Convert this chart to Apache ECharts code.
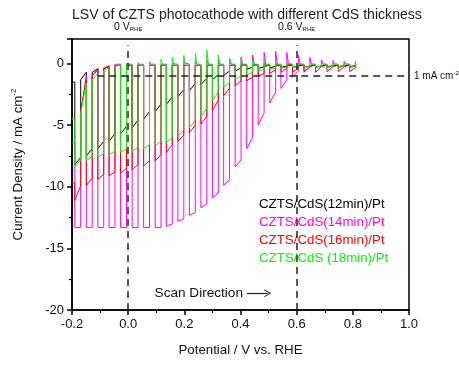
<!DOCTYPE html>
<html><head><meta charset="utf-8">
<script src="https://cdn.jsdelivr.net/npm/echarts@6/dist/echarts.min.js"></script>
<style>html,body{margin:0;padding:0;background:#fff}#c{width:459px;height:365px}</style>
</head><body><div id="c"></div>
<script>
// ---- chopping (light on / light off potentials, V vs RHE) ----
const V_START = -0.2;
const V_ON  = [-0.190,-0.149,-0.108,-0.068,-0.027,0.014,0.055,0.096,0.136,0.177,0.218,0.259,0.300,0.340,0.381,0.422,0.463,0.504,0.544,0.585,0.626,0.667,0.708,0.748,0.789];
const V_OFF = [-0.169,-0.128,-0.087,-0.047,-0.006,0.035,0.076,0.117,0.157,0.198,0.239,0.280,0.321,0.361,0.402,0.443,0.484,0.525,0.565,0.606,0.647,0.688,0.729,0.769,0.810];

const seriesNames = ['CZTS/CdS(12min)/Pt','CZTS/CdS(14min)/Pt','CZTS/CdS(16min)/Pt','CZTS/CdS (18min)/Pt'];
const seriesColors = ['#000000','#ff00ff','#ff0000','#11ee11'];

// ---- 12 min (black) ----
const s12_start = -1.5;
const s12_lightStart = [-8.2,-7.5,-6.9,-6.3,-5.7,-5.2,-4.5,-3.9,-3.3,-2.7,-2.2,-1.7,-1.3,-0.95,-0.6,-0.45,-0.4,-0.35,-0.3,-0.3,-0.3,-0.3,-0.3,-0.3,-0.3];
const s12_lightEnd   = [-7.6,-6.9,-6.3,-5.7,-5.1,-4.6,-3.9,-3.3,-2.7,-2.1,-1.6,-1.2,-0.9,-0.6,-0.35,-0.3,-0.25,-0.2,-0.2,-0.2,-0.2,-0.2,-0.2,-0.2,-0.2];
const s12_offVal     = [-1.3,-0.7,-0.4,-0.15,-0.15,-0.15,-0.15,-0.15,-0.15,-0.15,-0.15,-0.15,-0.15,-0.15,-0.12,-0.12,-0.1,-0.1,-0.1,-0.1,-0.1,-0.1,-0.1,-0.1,-0.1];
const s12_dark       = [-0.7,-0.4,-0.25,-0.15,-0.15,-0.15,-0.15,-0.15,-0.15,-0.15,-0.15,-0.15,-0.15,-0.15,-0.12,-0.12,-0.1,-0.1,-0.1,-0.1,-0.1,-0.1,-0.1,-0.1,-0.1];

// ---- 14 min (magenta) ----
const s14_start = -6.5;
const s14_lightStart = [-13.3,-13.3,-13.3,-13.3,-13.3,-13.3,-13.3,-13.3,-13.2,-12.8,-12.3,-11.7,-10.9,-9.9,-8.4,-6.9,-5.0,-3.2,-2.0,-1.1,-0.6,-0.35,-0.3,-0.25,-0.25];
const s14_lightEnd   = [-13.3,-13.3,-13.3,-13.3,-13.3,-13.3,-13.3,-13.3,-13.0,-12.6,-12.1,-11.4,-10.5,-9.4,-7.8,-6.0,-4.0,-2.3,-1.3,-0.6,-0.3,-0.15,-0.12,-0.1,-0.1];
const s14_offVal     = [-4.0,-1.0,-0.4,-0.05,-0.05,-0.05,-0.05,-0.05,0.0,0.1,0.2,0.3,0.3,0.4,0.5,0.7,0.9,1.0,0.9,0.7,0.5,0.3,0.25,0.2,0.2];
const s14_dark       = [-1.0,-0.4,-0.15,-0.05,-0.05,-0.05,-0.05,-0.05,-0.05,-0.05,-0.05,-0.05,-0.05,-0.05,-0.05,-0.05,-0.05,-0.05,-0.05,-0.05,-0.05,-0.05,-0.05,-0.05,-0.05];

// ---- 16 min (red) ----
const s16_start = -9.7;
const s16_lightStart = [-11.1,-9.9,-9.4,-9.1,-8.9,-8.6,-8.3,-7.9,-7.2,-6.3,-5.6,-4.9,-3.8,-2.6,-1.8,-1.4,-1.0,-0.8,-0.7,-0.7,-0.7,-0.7,-0.65,-0.65,-0.65];
const s16_lightEnd   = [-9.9,-9.3,-9.0,-8.8,-8.5,-8.2,-7.9,-7.4,-6.6,-5.8,-5.0,-4.3,-3.0,-2.0,-1.4,-1.1,-0.8,-0.5,-0.4,-0.35,-0.25,-0.25,-0.25,-0.25,-0.3];
const s16_offVal     = [-3.8,-1.0,-0.4,-0.15,-0.15,-0.15,-0.15,-0.15,-0.15,-0.15,-0.15,-0.15,-0.15,-0.15,-0.12,-0.12,-0.1,-0.1,-0.1,-0.1,-0.1,-0.1,-0.1,-0.1,-0.1];
const s16_dark       = [-1.3,-0.5,-0.2,-0.15,-0.15,-0.15,-0.15,-0.15,-0.15,-0.15,-0.15,-0.15,-0.15,-0.15,-0.12,-0.12,-0.1,-0.1,-0.1,-0.1,-0.1,-0.1,-0.1,-0.1,-0.1];

// ---- 18 min (green) ----
const s18_start = -4.5;
const s18_lightStart = [-8.4,-7.9,-7.6,-7.4,-7.2,-7.1,-6.9,-6.7,-6.4,-5.9,-5.2,-4.3,-3.0,-1.9,-1.3,-0.9,-0.6,-0.45,-0.35,-0.3,-0.3,-0.3,-0.3,-0.3,-0.3];
const s18_lightEnd   = [-7.8,-7.5,-7.3,-7.1,-6.9,-6.8,-6.6,-6.3,-6.0,-5.4,-4.6,-3.6,-2.3,-1.5,-1.0,-0.7,-0.45,-0.35,-0.3,-0.25,-0.2,-0.2,-0.2,-0.2,-0.2];
const s18_offVal     = [-4.0,-1.3,-0.6,-0.2,0.0,0.1,0.2,0.35,0.5,0.65,0.8,1.1,0.7,0.45,0.3,0.25,0.2,0.1,0.05,0.0,0.0,0.0,0.0,0.0,0.0];
const s18_dark       = [-1.6,-0.8,-0.3,-0.15,-0.12,-0.12,-0.12,-0.12,-0.12,-0.12,-0.12,-0.12,-0.12,-0.1,-0.1,-0.1,-0.08,-0.08,-0.06,-0.06,-0.06,-0.06,-0.06,-0.06,-0.06];

// ---- axes ----
const xTicks = [-0.2,0.0,0.2,0.4,0.6,0.8,1.0];
const yTicks = [-20,-15,-10,-5,0];

const SPIKE_W = 0.006;
function buildTrace(start, ls, le, off, dark){
  const pts = [[V_START, start]];
  let prev = start;
  for (let k = 0; k < V_ON.length; k++){
    pts.push([V_ON[k], prev]);
    pts.push([V_ON[k], ls[k]]);
    pts.push([V_OFF[k], le[k]]);
    pts.push([V_OFF[k], off[k]]);
    if (k < V_ON.length - 1 && off[k] > dark[k]) pts.push([V_OFF[k] + SPIKE_W, dark[k]]);
    prev = dark[k];
  }
  return pts;
}

const traces = [
  buildTrace(s12_start, s12_lightStart, s12_lightEnd, s12_offVal, s12_dark),
  buildTrace(s14_start, s14_lightStart, s14_lightEnd, s14_offVal, s14_dark),
  buildTrace(s16_start, s16_lightStart, s16_lightEnd, s16_offVal, s16_dark),
  buildTrace(s18_start, s18_lightStart, s18_lightEnd, s18_offVal, s18_dark)
];

const FONT = 'Liberation Sans, Arial, Helvetica, sans-serif';
const chart = echarts.init(document.getElementById('c'), null, {renderer:'canvas'});

const series = traces.map((d,i)=>({
  name: seriesNames[i], type:'line', data:d, showSymbol:false, symbol:'none',
  lineStyle:{color:seriesColors[i], width:1}, itemStyle:{color:seriesColors[i]},
  animation:false, silent:true, clip:true
}));

const chevron = 'path://M0,10 L5,0 L10,10 L8.6,10 L5,2.6 L1.4,10 Z';
const subLabel = (txt)=>({show:true, position:'end', distance:13, formatter:txt, color:'#111', fontSize:10.5, fontFamily:FONT,
  rich:{s:{fontSize:6, fontFamily:FONT, color:'#111', padding:[5,0,0,0]}}});
series.push({
  name:'annot', type:'line', data:[], silent:true, animation:false,
  markLine:{
    silent:true, animation:false, symbol:['none','none'],
    lineStyle:{type:[7,5], color:'#222', width:1.5},
    data:[
      [{coord:[0,-20], label:subLabel('0 V{s|RHE}')},{coord:[0,1.5]}],
      [{coord:[0.6,-20], label:subLabel('0.6 V{s|RHE}')},{coord:[0.6,1.5]}],
      [{coord:[-0.11,-1], label:{show:true, position:'end', distance:5, formatter:'1 mA cm{s|-2}', color:'#111', fontSize:10, fontFamily:FONT, rich:{s:{fontSize:6, fontFamily:FONT, color:'#111', padding:[0,0,6,0]}}}},{coord:[1.0,-1]}],
      [{coord:[0.423,-18.65], symbol:'none', lineStyle:{type:'solid', width:1.2, color:'#222'}, label:{show:true, position:'start', distance:4, formatter:'Scan Direction', color:'#111', fontSize:13.6, fontFamily:FONT}},{coord:[0.497,-18.65], symbol:chevron, symbolSize:[8,7]}]
    ]
  }
});

chart.setOption({
  backgroundColor:'#fff',
  animation:false,
  title:{text:'LSV of CZTS photocathode with different CdS thickness', left:67, top:3,
    textStyle:{fontSize:14.1, fontWeight:'normal', color:'#222', fontFamily:FONT}},
  legend:{orient:'vertical', left:249, top:192, itemWidth:0, itemHeight:14, itemGap:4.5, selectedMode:false, icon:'none',
    textStyle:{fontSize:13.3, fontFamily:FONT},
    data: seriesNames.map((n,i)=>({name:n, textStyle:{color:seriesColors[i], fontSize:13.3, fontFamily:FONT}}))},
  grid:{left:72, right:50, top:39, bottom:55, show:true, borderColor:'#000', borderWidth:1.5, backgroundColor:'transparent'},
  xAxis:{type:'value', min:xTicks[0], max:xTicks[xTicks.length-1], interval:0.2,
    name:'Potential / V vs. RHE', nameLocation:'middle', nameGap:34,
    nameTextStyle:{fontSize:13.3, color:'#111', fontFamily:FONT},
    axisLine:{show:true, onZero:false, lineStyle:{color:'#000', width:1.5}},
    axisTick:{show:true, inside:false, length:5, lineStyle:{color:'#000', width:1.5}},
    minorTick:{show:true, splitNumber:2, length:3, lineStyle:{color:'#000', width:1.2}},
    splitLine:{show:false},
    axisLabel:{fontSize:13, color:'#111', fontFamily:FONT, margin:8, formatter:v=>v.toFixed(1)}},
  yAxis:{type:'value', min:yTicks[0], max:2, interval:5,
    name:'Current Density / mA cm{s|-2}', nameLocation:'middle', nameGap:46, nameRotate:90,
    nameTextStyle:{fontSize:13.3, color:'#111', fontFamily:FONT, padding:[0,0,0,20],
      rich:{s:{fontSize:8, fontFamily:FONT, color:'#111', padding:[0,0,8,0]}}},
    axisLine:{show:true, onZero:false, lineStyle:{color:'#000', width:1.5}},
    axisTick:{show:true, inside:false, length:5, lineStyle:{color:'#000', width:1.5}},
    minorTick:{show:true, splitNumber:2, length:3, lineStyle:{color:'#000', width:1.2}},
    splitLine:{show:false},
    axisLabel:{fontSize:13, color:'#111', fontFamily:FONT, margin:8, showMaxLabel:false,
      formatter:v=> (v % 5 === 0 ? String(v) : '')}},
  series: series
});
</script></body></html>
